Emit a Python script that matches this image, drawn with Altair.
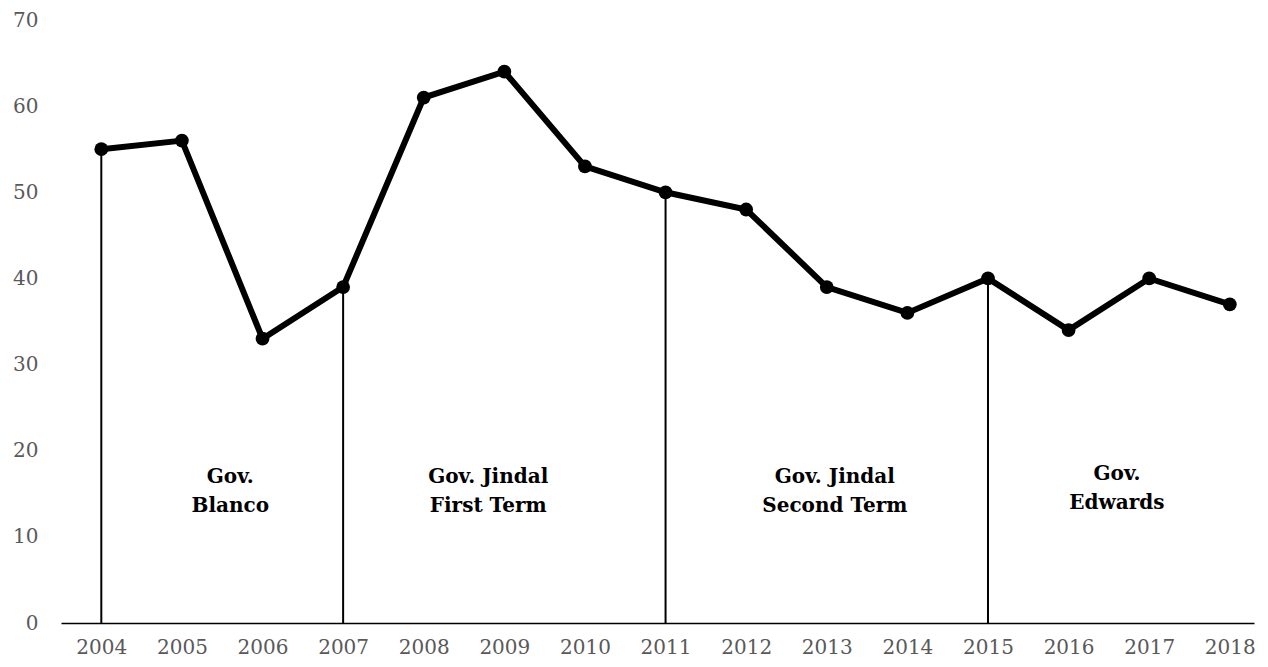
import altair as alt
import pandas as pd

years = list(range(2004, 2019))
values = [55, 56, 33, 39, 61, 64, 53, 50, 48, 39, 36, 40, 34, 40, 37]
divider_years = [2004, 2007, 2011, 2015]
label_x = [2005.6, 2008.8, 2013.1, 2016.6]
label_y = [17.0, 17.0, 17.0, 17.3]
label_text = ["Gov.\nBlanco", "Gov. Jindal\nFirst Term", "Gov. Jindal\nSecond Term", "Gov.\nEdwards"]

df = pd.DataFrame({"year": years, "value": values})
div = df[df["year"].isin(divider_years)]
labels = pd.DataFrame({"x": label_x, "y": label_y, "t": label_text})

FONT = "DejaVu Serif"
xs = alt.Scale(domain=[2003.5, 2018.3], nice=False, zero=False)
ys = alt.Scale(domain=[0, 70], nice=False)

xaxis = alt.Axis(values=years, format="d", ticks=False, grid=False, domainColor="#000",
                 domainWidth=1.5, labelFont=FONT, labelFontSize=20, labelColor="#595959",
                 labelPadding=14, title=None, labelFlush=False)
yaxis = alt.Axis(values=list(range(0, 71, 10)), ticks=False, grid=False, domain=False,
                 labelFont=FONT, labelFontSize=20, labelColor="#595959", labelPadding=23,
                 title=None)

base = alt.Chart(df)
line = base.mark_line(color="black", strokeWidth=6).encode(
    x=alt.X("year:Q", scale=xs, axis=xaxis),
    y=alt.Y("value:Q", scale=ys, axis=yaxis),
)
pts = base.mark_circle(color="black", size=190, opacity=1).encode(
    x=alt.X("year:Q", scale=xs), y=alt.Y("value:Q", scale=ys)
)
rules = alt.Chart(div).mark_rule(color="black", strokeWidth=2).encode(
    x=alt.X("year:Q", scale=xs), y=alt.Y("value:Q", scale=ys), y2=alt.datum(0)
)
txt = alt.Chart(labels).mark_text(font=FONT, fontWeight="bold", fontSize=20,
                                  lineBreak="\n", lineHeight=29, color="black",
                                  baseline="middle").encode(
    x=alt.X("x:Q", scale=xs), y=alt.Y("y:Q", scale=ys), text="t:N"
)

chart = alt.layer(rules, line, pts, txt).properties(
    width=1193, height=603,
    autosize=alt.AutoSizeParams(type="none"),
    padding={"left": 53, "top": 12, "right": 6, "bottom": 34},
).configure_view(stroke=None)

chart.save("out.html", embed_options={"renderer": "svg", "actions": False})
